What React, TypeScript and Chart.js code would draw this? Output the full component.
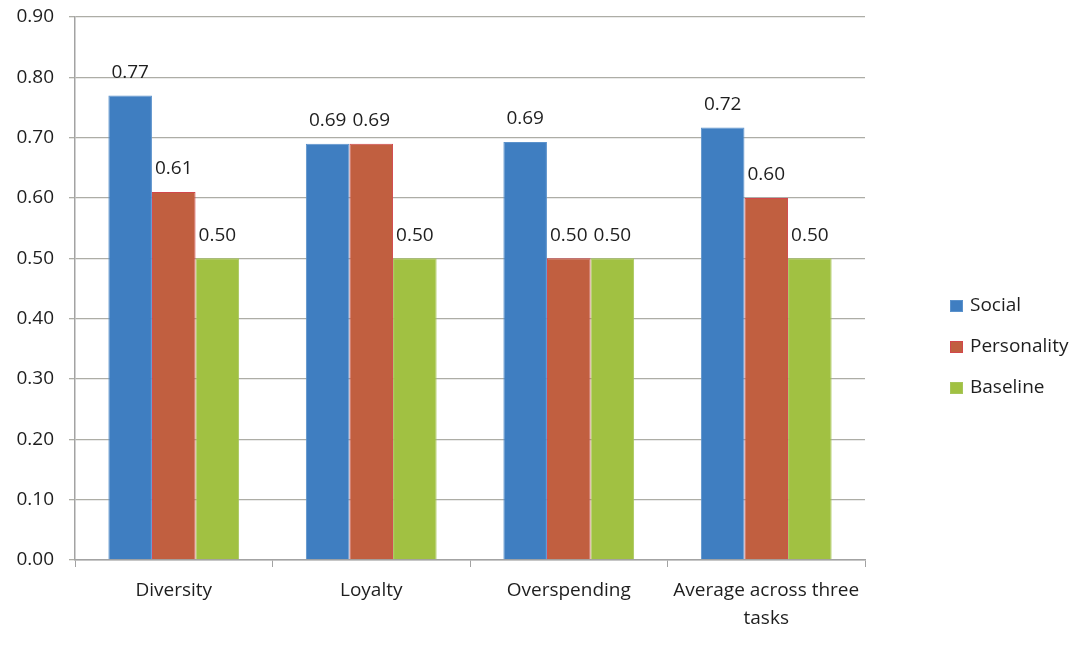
import React, { useEffect, useRef } from "react";
import { Chart, registerables } from "chart.js";

Chart.register(...registerables);

const categories = ["Diversity", "Loyalty", "Overspending", "Average across three tasks"];
const seriesNames = ["Social", "Personality", "Baseline"];
const socialValues = [0.77, 0.69, 0.693, 0.717];
const personalityValues = [0.61, 0.69, 0.5, 0.6];
const baselineValues = [0.5, 0.5, 0.5, 0.5];
const yMin = 0;
const yMax = 0.9;
const yStep = 0.1;

const FONT = "'Open Sans', 'DejaVu Sans', sans-serif";
const TEXT = "#1e1e1e";
const fills = ["#3f7ec1", "#c15f40", "#a1c142"];
const borders = ["#5b92cc", "#d2474b", "#a7c65a"];

function wrapLabel(s: string, max: number): string | string[] {
  if (s.length <= max) return s;
  const words = s.split(" ");
  const lines: string[] = [];
  let cur = "";
  for (const w of words) {
    const next = cur ? cur + " " + w : w;
    if (next.length > max && cur) {
      lines.push(cur);
      cur = w;
    } else cur = next;
  }
  if (cur) lines.push(cur);
  return lines;
}

const overlayPlugin = {
  id: "overlay",
  afterDatasetsDraw(chart: any, _args: any, opts: any) {
    const ctx = chart.ctx;
    ctx.save();
    ctx.font = `19px ${FONT}`;
    ctx.fillStyle = TEXT;
    ctx.textAlign = "center";
    ctx.textBaseline = "middle";
    chart.data.datasets.forEach((ds: any, di: number) => {
      const meta = chart.getDatasetMeta(di);
      meta.data.forEach((el: any, i: number) => {
        ctx.fillText(Number(ds.data[i]).toFixed(2), el.x, el.y - 23);
      });
    });
    // legend
    ctx.textAlign = "left";
    chart.data.datasets.forEach((ds: any, di: number) => {
      const cy = opts.y + di * opts.spacing;
      ctx.fillStyle = ds.backgroundColor;
      ctx.fillRect(opts.x, cy - 6, 13, 12);
      ctx.strokeStyle = ds.borderColor;
      ctx.lineWidth = 1;
      ctx.strokeRect(opts.x + 0.5, cy - 5.5, 12, 11);
      ctx.fillStyle = TEXT;
      ctx.fillText(ds.label, opts.x + 20, cy);
    });
    ctx.restore();
  },
};

export default function App() {
  const ref = useRef<HTMLCanvasElement | null>(null);
  useEffect(() => {
    if (!ref.current) return;
    const seriesValues = [socialValues, personalityValues, baselineValues];
    const chart = new Chart(ref.current, {
      type: "bar",
      data: {
        labels: categories,
        datasets: seriesNames.map((name, i) => ({
          label: name,
          data: seriesValues[i],
          backgroundColor: fills[i],
          borderColor: borders[i],
          borderWidth: 1,
          categoryPercentage: 0.662,
          barPercentage: 1,
        })),
      },
      options: {
        responsive: false,
        animation: false,
        layout: { padding: { top: 17, right: 223, left: 0, bottom: 0 } },
        plugins: {
          legend: { display: false },
          tooltip: { enabled: false },
          overlay: { x: 950, y: 306, spacing: 41 },
        } as any,
        scales: {
          x: {
            afterFit: (s: any) => {
              s.height = 93;
              s.paddingLeft = 0;
              s.paddingRight = 0;
            },
            grid: {
              offset: true,
              drawOnChartArea: false,
              tickLength: 7,
              color: "#a3a3a3",
            },
            border: { color: "#a3a3a3", width: 1.5 },
            ticks: {
              color: TEXT,
              padding: 10,
              font: { family: FONT, size: 19, lineHeight: 1.45 },
              callback: (_v: any, i: number) => wrapLabel(categories[i], 20),
            },
          },
          y: {
            min: yMin,
            max: yMax,
            afterFit: (s: any) => {
              s.width = 75;
              s.paddingTop = 0;
              s.paddingBottom = 0;
            },
            grid: {
              color: "#adada6",
              lineWidth: 1.3,
              tickLength: 6,
            },
            border: { color: "#a3a3a3", width: 1.5 },
            ticks: {
              stepSize: yStep,
              color: TEXT,
              padding: 15,
              font: { family: FONT, size: 19 },
              callback: (v: any) => Number(v).toFixed(2),
            },
          },
        },
      },
      plugins: [overlayPlugin],
    });
    return () => chart.destroy();
  }, []);
  return (
    <div style={{ position: "absolute", left: 0, top: 0, width: 1088, height: 653, background: "#fff" }}>
      <canvas ref={ref} width={1088} height={653} />
    </div>
  );
}
